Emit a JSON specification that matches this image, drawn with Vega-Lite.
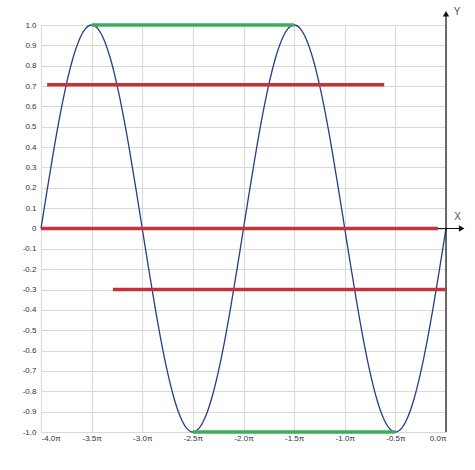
{
  "$schema": "https://vega.github.io/schema/vega-lite/v6.json",
  "width": 405,
  "height": 407,
  "autosize": {"type": "none"},
  "padding": {"left": 41, "top": 25, "right": 29, "bottom": 38},
  "background": "white",
  "config": {
    "view": {"stroke": null},
    "axis": {
      "labelFont": "Liberation Sans",
      "labelFontSize": 8,
      "labelColor": "#333333",
      "gridColor": "#d9d9d9",
      "gridWidth": 1,
      "domain": false,
      "ticks": false,
      "title": null,
      "labelOverlap": false
    }
  },
  "datasets": {
    "sine": [
      {"x": -4, "y": 0}, {"x": -3.9375, "y": 0.1951}, {"x": -3.875, "y": 0.3827}, {"x": -3.8125, "y": 0.5556},
      {"x": -3.75, "y": 0.7071}, {"x": -3.6875, "y": 0.8315}, {"x": -3.625, "y": 0.9239}, {"x": -3.5625, "y": 0.9808},
      {"x": -3.5, "y": 1}, {"x": -3.4375, "y": 0.9808}, {"x": -3.375, "y": 0.9239}, {"x": -3.3125, "y": 0.8315},
      {"x": -3.25, "y": 0.7071}, {"x": -3.1875, "y": 0.5556}, {"x": -3.125, "y": 0.3827}, {"x": -3.0625, "y": 0.1951},
      {"x": -3, "y": 0}, {"x": -2.9375, "y": -0.1951}, {"x": -2.875, "y": -0.3827}, {"x": -2.8125, "y": -0.5556},
      {"x": -2.75, "y": -0.7071}, {"x": -2.6875, "y": -0.8315}, {"x": -2.625, "y": -0.9239}, {"x": -2.5625, "y": -0.9808},
      {"x": -2.5, "y": -1}, {"x": -2.4375, "y": -0.9808}, {"x": -2.375, "y": -0.9239}, {"x": -2.3125, "y": -0.8315},
      {"x": -2.25, "y": -0.7071}, {"x": -2.1875, "y": -0.5556}, {"x": -2.125, "y": -0.3827}, {"x": -2.0625, "y": -0.1951},
      {"x": -2, "y": 0}, {"x": -1.9375, "y": 0.1951}, {"x": -1.875, "y": 0.3827}, {"x": -1.8125, "y": 0.5556},
      {"x": -1.75, "y": 0.7071}, {"x": -1.6875, "y": 0.8315}, {"x": -1.625, "y": 0.9239}, {"x": -1.5625, "y": 0.9808},
      {"x": -1.5, "y": 1}, {"x": -1.4375, "y": 0.9808}, {"x": -1.375, "y": 0.9239}, {"x": -1.3125, "y": 0.8315},
      {"x": -1.25, "y": 0.7071}, {"x": -1.1875, "y": 0.5556}, {"x": -1.125, "y": 0.3827}, {"x": -1.0625, "y": 0.1951},
      {"x": -1, "y": 0}, {"x": -0.9375, "y": -0.1951}, {"x": -0.875, "y": -0.3827}, {"x": -0.8125, "y": -0.5556},
      {"x": -0.75, "y": -0.7071}, {"x": -0.6875, "y": -0.8315}, {"x": -0.625, "y": -0.9239}, {"x": -0.5625, "y": -0.9808},
      {"x": -0.5, "y": -1}, {"x": -0.4375, "y": -0.9808}, {"x": -0.375, "y": -0.9239}, {"x": -0.3125, "y": -0.8315},
      {"x": -0.25, "y": -0.7071}, {"x": -0.1875, "y": -0.5556}, {"x": -0.125, "y": -0.3827}, {"x": -0.0625, "y": -0.1951},
      {"x": 0, "y": 0}
    ],
    "segments": [
      {"x": -3.94, "x2": -0.61, "y": 0.707, "kind": "red"},
      {"x": -4.0, "x2": -0.08, "y": 0, "kind": "red"},
      {"x": -3.29, "x2": 0.0, "y": -0.3, "kind": "red"},
      {"x": -3.5, "x2": -1.5, "y": 1, "kind": "green"},
      {"x": -2.5, "x2": -0.5, "y": -1, "kind": "green"}
    ],
    "axeslines": [
      {"x": -4, "x2": 0.17, "y": 0, "y2": 0},
      {"x": 0, "x2": 0, "y": -1, "y2": 1.06}
    ],
    "arrows": [
      {"x": 0.155, "y": 0, "dir": "right", "label": "X"},
      {"x": 0, "y": 1.055, "dir": "up", "label": "Y"}
    ]
  },
  "encoding": {
    "x": {
      "field": "x", "type": "quantitative",
      "scale": {"domain": [-4, 0], "nice": false, "zero": false},
      "axis": {
        "values": [-4, -3.5, -3, -2.5, -2, -1.5, -1, -0.5, 0],
        "labelExpr": "replace(format(datum.value, '.1f'), '\u2212', '-') + 'π'",
        "labelPadding": 2
      }
    },
    "y": {
      "field": "y", "type": "quantitative",
      "scale": {"domain": [-1, 1], "nice": false},
      "axis": {
        "values": [-1, -0.9, -0.8, -0.7, -0.6, -0.5, -0.4, -0.3, -0.2, -0.1, 0, 0.1, 0.2, 0.3, 0.4, 0.5, 0.6, 0.7, 0.8, 0.9, 1],
        "labelExpr": "abs(datum.value) < 0.001 ? '0' : replace(format(datum.value, '.1f'), '\u2212', '-')",
        "labelPadding": 5
      }
    }
  },
  "layer": [
    {
      "data": {"name": "sine"},
      "mark": {"type": "line", "color": "#243f8c", "strokeWidth": 1.3, "interpolate": "monotone"}
    },
    {
      "data": {"name": "axeslines"},
      "mark": {"type": "rule", "color": "#111111", "strokeWidth": 1.2},
      "encoding": {
        "x2": {"field": "x2"},
        "y2": {"field": "y2"}
      }
    },
    {
      "data": {"name": "segments"},
      "mark": {"type": "rule", "strokeWidth": 3.5},
      "encoding": {
        "x2": {"field": "x2"},
        "color": {
          "field": "kind", "type": "nominal",
          "scale": {"domain": ["red", "green"], "range": ["#c8303a", "#3bae5c"]},
          "legend": null
        }
      }
    },
    {
      "data": {"name": "arrows"},
      "mark": {"type": "point", "filled": true, "color": "#111111", "size": 40, "opacity": 1},
      "encoding": {
        "shape": {
          "field": "dir", "type": "nominal",
          "scale": {"domain": ["right", "up"], "range": ["triangle-right", "triangle-up"]},
          "legend": null
        }
      }
    },
    {
      "data": {"name": "arrows"},
      "transform": [{"filter": "datum.label === 'X'"}],
      "mark": {"type": "text", "font": "Liberation Sans", "fontSize": 10, "color": "#555555", "dx": -4, "dy": -12},
      "encoding": {
        "text": {"field": "label"}
      }
    },
    {
      "data": {"name": "arrows"},
      "transform": [{"filter": "datum.label === 'Y'"}],
      "mark": {"type": "text", "font": "Liberation Sans", "fontSize": 10, "color": "#555555", "dx": 11, "dy": -2},
      "encoding": {
        "text": {"field": "label"}
      }
    }
  ]
}
